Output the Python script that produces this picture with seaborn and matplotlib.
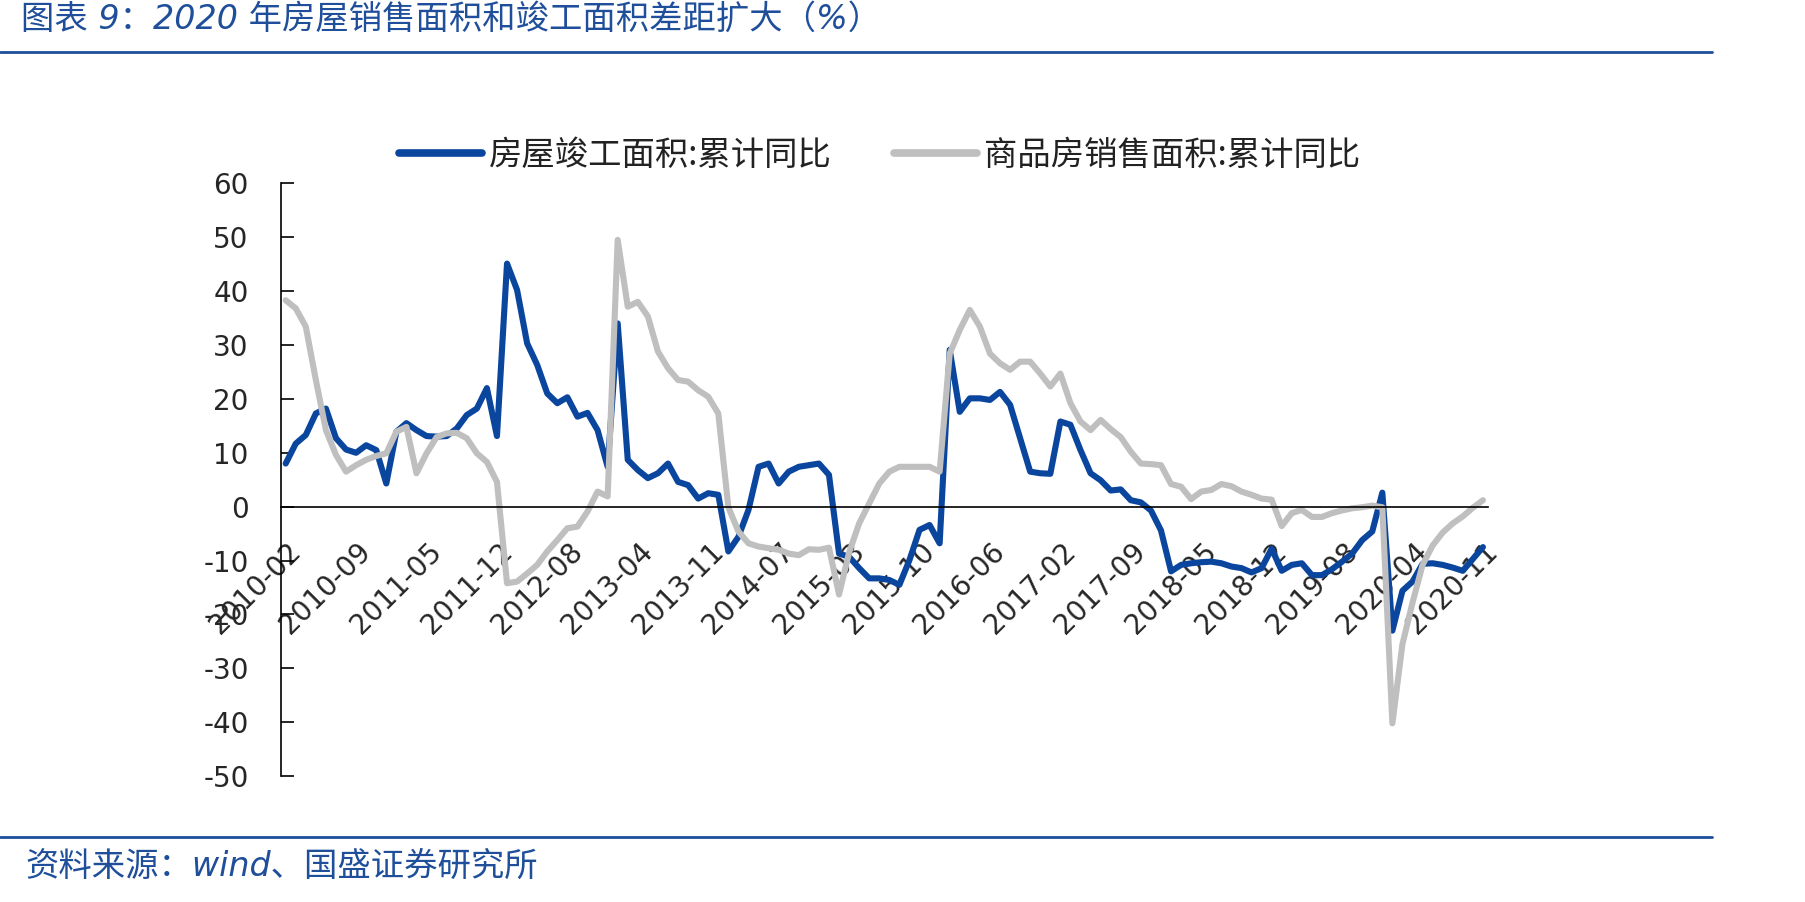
import pandas as pd
import matplotlib
matplotlib.use('Agg')
import matplotlib.pyplot as plt
import matplotlib.transforms as mtransforms
from matplotlib.lines import Line2D
import seaborn as sns

# 月份：每年2月-12月（1月与2月合并），2010-02 到 2020-11
months = [f'{y}-{m:02d}' for y in range(2010, 2021) for m in range(2, 13)][:120]

tick_labels = ['2010-02', '2010-09', '2011-05', '2011-12', '2012-08', '2013-04',
               '2013-11', '2014-07', '2015-03', '2015-10', '2016-06', '2017-02',
               '2017-09', '2018-05', '2018-12', '2019-08', '2020-04', '2020-11']

name_done = '房屋竣工面积:累计同比'
name_sale = '商品房销售面积:累计同比'

# 房屋竣工面积:累计同比 (%)
done = [
    8.0, 11.7, 13.3, 17.3, 18.2, 12.7, 10.6, 10.0, 11.4, 10.5, 4.3,          # 2010
    13.9, 15.5, 14.2, 13.1, 13.0, 13.1, 14.5, 17.0, 18.2, 22.0, 13.1,        # 2011
    45.1, 40.2, 30.3, 26.3, 21.0, 19.2, 20.3, 16.7, 17.4, 14.2, 7.4,         # 2012
    34.0, 8.7, 6.8, 5.3, 6.2, 8.0, 4.6, 4.0, 1.5, 2.5, 2.2,                  # 2013
    -8.3, -5.6, -0.6, 7.4, 8.0, 4.3, 6.5, 7.4, 7.7, 8.0, 5.9,                # 2014
    -8.7, -9.3, -11.4, -13.3, -13.3, -13.6, -14.5, -9.9, -4.3, -3.4, -6.8,   # 2015
    29.1, 17.6, 20.1, 20.1, 19.8, 21.3, 18.9, 12.7, 6.5, 6.2, 6.1,           # 2016
    15.8, 15.2, 10.5, 6.2, 4.9, 3.0, 3.2, 1.2, 0.8, -0.7, -4.4,              # 2017
    -12.0, -10.8, -10.5, -10.3, -10.2, -10.5, -11.1, -11.4, -12.2, -11.4, -7.8,  # 2018
    -11.9, -10.8, -10.5, -12.7, -12.7, -11.6, -10.2, -8.7, -6.2, -4.6, 2.6,  # 2019
    -23.0, -15.6, -13.9, -10.6, -10.5, -10.8, -11.3, -11.9, -9.7, -7.5,      # 2020
]

# 商品房销售面积:累计同比 (%)
sale = [
    38.3, 36.8, 33.4, 23.5, 14.2, 9.6, 6.5, 7.7, 8.7, 9.4, 9.9,              # 2010
    13.9, 14.8, 6.2, 9.9, 12.9, 13.6, 13.7, 12.7, 9.9, 8.3, 4.6,             # 2011
    -14.2, -13.9, -12.4, -10.8, -8.3, -6.2, -4.0, -3.7, -0.9, 2.8, 1.9,      # 2012
    49.5, 37.1, 38.0, 35.3, 28.8, 25.7, 23.5, 23.2, 21.6, 20.4, 17.3,        # 2013
    -0.1, -4.6, -6.8, -7.4, -7.7, -8.0, -8.7, -9.0, -7.9, -8.0, -7.6,        # 2014
    -16.3, -8.5, -3.1, 0.6, 4.3, 6.5, 7.4, 7.4, 7.4, 7.4, 6.5,               # 2015
    28.4, 32.8, 36.5, 33.4, 28.4, 26.6, 25.4, 26.9, 26.9, 24.7, 22.3,        # 2016
    24.7, 19.2, 15.8, 14.2, 16.1, 14.4, 12.9, 10.2, 8.0, 7.9, 7.7,           # 2017
    4.2, 3.7, 1.4, 2.8, 3.1, 4.2, 3.8, 2.8, 2.2, 1.5, 1.3,                   # 2018
    -3.6, -1.2, -0.6, -1.9, -1.9, -1.2, -0.7, -0.3, -0.1, 0.2, -0.1,         # 2019
    -40.2, -25.5, -17.8, -10.8, -7.2, -4.8, -3.1, -1.8, -0.2, 1.2,           # 2020
]

blue = '#0B469E'
gray = '#BFBFBF'
dark_blue = '#1F4E9A'

df = pd.DataFrame({
    'pos': list(range(len(months))) * 2,
    '月份': months * 2,
    '值': done + sale,
    '指标': [name_done] * len(done) + [name_sale] * len(sale),
})

sns.set_style('white')
plt.rcParams['font.family'] = ['DejaVu Sans', 'Noto Sans CJK SC']
plt.rcParams['axes.unicode_minus'] = False

fig = plt.figure(figsize=(18.06, 9.02), dpi=100)
ax = fig.add_axes([0.1554, 0.1395, 0.6685, 0.6573])

sns.lineplot(data=df, x='pos', y='值', hue='指标', hue_order=[name_done, name_sale],
             palette=[blue, gray], linewidth=4.4, ax=ax, legend=False)
for ln in ax.get_lines():
    ln.set_solid_joinstyle('round')
    ln.set_solid_capstyle('round')

ax.set_xlim(-0.5, len(months) - 0.5)
ax.set_ylim(-50, 60)
ax.set_yticks(range(-50, 61, 10))
ax.set_xlabel('')
ax.set_ylabel('')

for s in ['top', 'right']:
    ax.spines[s].set_visible(False)
ax.spines['bottom'].set_position(('data', 0))
for s in ['left', 'bottom']:
    ax.spines[s].set_color('black')
    ax.spines[s].set_linewidth(1.2)

label_pos = [months.index(t) for t in tick_labels]
ax.set_xticks(label_pos)
ax.set_xticklabels(tick_labels)
ax.set_xticks([p - 0.5 for p in label_pos], minor=True)
ax.tick_params(axis='x', which='major', length=0, pad=22, labelsize=20)
ax.tick_params(axis='x', which='minor', direction='in', length=9, width=1.2, color='black')
ax.tick_params(axis='y', direction='in', length=9, width=1.2, color='black',
               pad=23, labelsize=20, left=True)

shift = mtransforms.ScaledTranslation(1 / 100, 0, fig.dpi_scale_trans)
for lbl in ax.get_xticklabels():
    lbl.set_rotation(45)
    lbl.set_ha('right')
    lbl.set_va('top')
    lbl.set_rotation_mode('anchor')
    lbl.set_transform(lbl.get_transform() + shift)

handles = [Line2D([], [], color=blue, lw=5.5, solid_capstyle='round'),
           Line2D([], [], color=gray, lw=5.5, solid_capstyle='round')]
fig.legend(handles, [name_done, name_sale], loc='center', bbox_to_anchor=(0.487, 0.828),
           ncol=2, frameon=False, handlelength=2.5, handletextpad=0.2, columnspacing=1.85,
           prop={'family': ['Noto Sans CJK SC'], 'size': 24}, labelcolor='#222222')

# 标题、来源与分隔线
fig.text(0.0116, 0.979, '图表 9：2020 年房屋销售面积和竣工面积差距扩大（%）',
         ha='left', va='center', fontsize=24, color=dark_blue, style='italic',
         family=['DejaVu Sans', 'Noto Sans CJK SC'])
fig.text(0.0138, 0.040, '资料来源：wind、国盛证券研究所',
         ha='left', va='center', fontsize=24, color=dark_blue, style='italic',
         family=['DejaVu Sans', 'Noto Sans CJK SC'])
fig.add_artist(Line2D([0, 0.948], [0.9424, 0.9424], color=dark_blue, lw=2,
                      transform=fig.transFigure))
fig.add_artist(Line2D([0, 0.948], [0.0721, 0.0721], color=dark_blue, lw=2,
                      transform=fig.transFigure))

fig.savefig('out.png', dpi=100, facecolor='white')
